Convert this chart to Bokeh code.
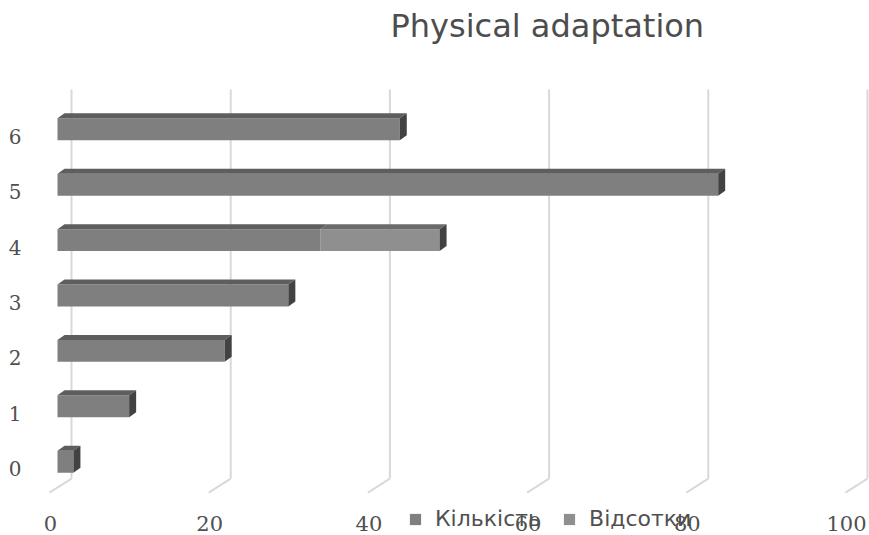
from bokeh.plotting import figure
from bokeh.models import (Range1d, LinearAxis, FixedTicker, ColumnDataSource,
                          Legend, LegendItem)
from bokeh.embed import file_html
from bokeh.resources import INLINE

# ---------------- data ----------------
rows = [0, 1, 2, 3, 4, 5, 6]
kilkist = [2, 9, 21, 29, 33, 83, 43]
vidsotky = [0, 0, 0, 0, 15, 0, 0]
x_ticks = [0, 20, 40, 60, 80, 100]
series_names = ["Кількість", "Відсотки"]
title_text = "Physical adaptation"

# ---------------- layout / style ----------------
W, H = 869, 535
MB_L, MB_R, MB_T, MB_B = 32, 0, 47, 0
PX_X = 7.96          # pixels per value unit
PX_Y = 55.5          # pixels per row
frame_w = W - MB_L - MB_R
frame_h = H - MB_T - MB_B
x_start = -(57 - MB_L) / PX_X
x_end = x_start + frame_w / PX_X
y_start = -((H - MB_B) - 461) / PX_Y
y_end = y_start + frame_h / PX_Y

BAR_H = 22 / PX_Y
DX, DY = 7 / PX_X, 5 / PX_Y              # 3-D depth of bars
BACK_DX = 14 / PX_X                      # back wall offset
GRID_Y0, GRID_Y1 = -17 / PX_Y, 373 / PX_Y
FLOOR_DX, FLOOR_DY = -22 / PX_X, -14 / PX_Y
LBL_DX, LBL_DY = 7 / PX_X, 7 / PX_Y
XAXIS_Y = -48 / PX_Y

front_cols = ["#7f7f7f", "#8f8f8f"]
top_cols = ["#5e5e5e", "#6b6b6b"]
side_col = "#424242"
grid_col = "#d9d9d9"
text_col = "#505050"

p = figure(width=W, height=H, x_range=Range1d(x_start, x_end),
           y_range=Range1d(y_start, y_end), output_backend="svg",
           toolbar_location=None, x_axis_location=None, y_axis_location=None,
           min_border_left=MB_L, min_border_right=MB_R, min_border_top=MB_T,
           min_border_bottom=MB_B, outline_line_color=None, title=title_text)
p.xgrid.visible = False
p.ygrid.visible = False
p.title.align = "left"
p.title.offset = 358
p.title.standoff = 8
p.title.text_font = "DejaVu Sans"
p.title.text_font_size = "32px"
p.title.text_font_style = "normal"
p.title.text_color = "#4d4d4d"

# axes (shifted label ranges to mimic the 3-D projection)
p.extra_x_ranges = {"xt": Range1d(x_start + LBL_DX, x_end + LBL_DX)}
p.extra_y_ranges = {"yt": Range1d(y_start + LBL_DY, y_end + LBL_DY)}
xaxis = LinearAxis(x_range_name="xt", ticker=FixedTicker(ticks=x_ticks),
                   fixed_location=XAXIS_Y,
                   axis_line_color=None, major_tick_line_color=None,
                   minor_tick_line_color=None, major_tick_out=0, major_tick_in=0,
                   minor_tick_out=0, minor_tick_in=0, major_label_standoff=6,
                   major_label_text_font="DejaVu Serif",
                   major_label_text_font_size="21px",
                   major_label_text_color=text_col)
yaxis = LinearAxis(y_range_name="yt", ticker=FixedTicker(ticks=rows),
                   axis_line_color=None, major_tick_line_color=None,
                   minor_tick_line_color=None, major_tick_out=0, major_tick_in=0,
                   minor_tick_out=0, minor_tick_in=0, major_label_standoff=11,
                   major_label_text_font="DejaVu Serif",
                   major_label_text_font_size="20px",
                   major_label_text_color=text_col)
p.add_layout(xaxis, "below")
p.add_layout(yaxis, "left")

# back-wall gridlines and floor edges
p.segment(x0=[v + BACK_DX for v in x_ticks], x1=[v + BACK_DX for v in x_ticks],
          y0=[GRID_Y0] * len(x_ticks), y1=[GRID_Y1] * len(x_ticks),
          line_color=grid_col, line_width=2)
p.segment(x0=[v + BACK_DX for v in x_ticks],
          x1=[v + BACK_DX + FLOOR_DX for v in x_ticks],
          y0=[GRID_Y0] * len(x_ticks), y1=[GRID_Y0 + FLOOR_DY] * len(x_ticks),
          line_color=grid_col, line_width=2)

# bars: front faces
src = ColumnDataSource(dict(row=rows, k=kilkist, v=vidsotky))
bars = p.hbar_stack(["k", "v"], y="row", height=BAR_H, source=src,
                    fill_color=front_cols, line_color=None)

# top faces and side faces
top_xs, top_ys, top_c = [], [], []
side_xs, side_ys = [], []
for i, r in enumerate(rows):
    left = 0
    for vals, tc in ((kilkist, top_cols[0]), (vidsotky, top_cols[1])):
        val = vals[i]
        if val > 0:
            right = left + val
            yt = r + BAR_H / 2
            top_xs.append([left, right, right + DX, left + DX])
            top_ys.append([yt, yt, yt + DY, yt + DY])
            top_c.append(tc)
            left = right
    end = left
    side_xs.append([end, end, end + DX, end + DX])
    side_ys.append([r - BAR_H / 2, r + BAR_H / 2, r + BAR_H / 2 + DY, r - BAR_H / 2 + DY])
p.patches(top_xs, top_ys, fill_color=top_c, line_color=None)
p.patches(side_xs, side_ys, fill_color=side_col, line_color=None)

legend = Legend(items=[LegendItem(label=series_names[0], renderers=[bars[0]]),
                       LegendItem(label=series_names[1], renderers=[bars[1]])],
                location=(408 - MB_L, 4), orientation="horizontal",
                glyph_width=14, glyph_height=14, label_standoff=13, spacing=21,
                padding=0, margin=0, border_line_color=None,
                background_fill_alpha=0, label_text_font="DejaVu Sans",
                label_text_font_size="22px", label_text_color=text_col)
p.add_layout(legend)

open("out.html", "w").write(file_html(p, INLINE))
